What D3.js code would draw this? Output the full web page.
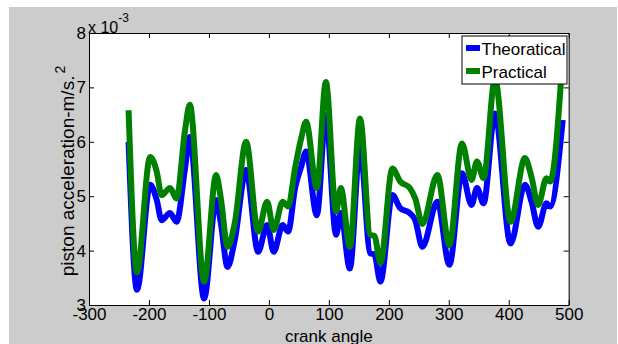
<!DOCTYPE html>
<html>
<head>
<meta charset="utf-8">
<script src="https://cdn.jsdelivr.net/npm/d3@7"></script>
<style>
    body { margin: 0; background: #fff; }
    svg { display: block; font-family: "Liberation Sans", Arial, sans-serif; }
</style>
</head>
<body>
<div id="chart"></div>
<script>
// crank angle (deg) and acceleration values, in units of 1e-3 m/s^2
const crankAngle = [-234, -220, -198, -187, -179, -165, -154, -140, -132, -108, -88, -80, -69, -57, -38,
    -18, -3, 8, 23, 32, 44, 54, 62, 80, 95, 112, 120, 135, 152, 169, 176, 186, 206, 219, 235, 244,
    256, 281, 301, 322, 338, 347, 358, 377, 403, 427, 438, 449, 463, 469, 490];
const theoretical = [6.0, 3.28, 5.21, 4.93, 4.56, 4.69, 4.53, 5.5, 6.09, 3.12, 4.93, 4.5, 3.70, 4.19, 5.48,
    3.98, 4.47, 3.98, 4.47, 4.35, 5.17, 5.55, 5.82, 4.65, 6.49, 4.29, 4.69, 3.67, 5.91, 3.95, 3.93, 3.43,
    5.02, 4.78, 4.69, 4.56, 4.07, 4.90, 3.74, 5.42, 4.84, 5.15, 4.87, 6.52, 4.13, 5.21, 4.9, 4.44, 4.87,
    4.81, 6.4];
const practical = [6.58, 3.60, 5.72, 5.45, 5.02, 5.15, 4.96, 6.2, 6.68, 3.43, 5.39, 4.95, 4.07, 4.5, 6.0,
    4.35, 4.9, 4.38, 4.9, 4.81, 5.54, 6.07, 6.37, 5.15, 7.1, 4.72, 5.15, 4.07, 6.43, 4.29, 4.27, 3.77,
    5.51, 5.27, 5.15, 4.96, 4.49, 5.39, 4.10, 5.97, 5.30, 5.64, 5.33, 7.15, 4.53, 5.70, 5.35, 4.84, 5.33,
    5.27, 7.6];
const seriesNames = ["Theoratical", "Practical"];
const seriesColors = ["#0000ff", "#008000"];
const xTicks = [-300, -200, -100, 0, 100, 200, 300, 400, 500];
const yTicks = [3, 4, 5, 6, 7, 8];

const W = 618, H = 344;
const plot = { left: 89, top: 33, right: 568.7, bottom: 305 };

const svg = d3.select("#chart").append("svg")
    .attr("width", W)
    .attr("height", H);

// figure background
svg.append("rect")
    .attr("x", 9).attr("y", 7)
    .attr("width", 608).attr("height", H - 7)
    .attr("fill", "#cccccc");

svg.append("rect")
    .attr("x", plot.left).attr("y", plot.top)
    .attr("width", plot.right - plot.left).attr("height", plot.bottom - plot.top)
    .attr("fill", "#fff");

const x = d3.scaleLinear().domain([-300, 500]).range([plot.left, plot.right]);
const y = d3.scaleLinear().domain([3, 8]).range([plot.bottom, plot.top]);
const fmt = (d) => String(d); // plain hyphen minus, no decimals

const rows = crankAngle.map((a, i) => ({ a: a, v: [theoretical[i], practical[i]] }));

const line = (k) => d3.line()
    .x((d) => x(d.a))
    .y((d) => y(d.v[k]))
    .curve(d3.curveMonotoneX);

seriesNames.forEach((name, k) => {
    svg.append("path")
        .datum(rows)
        .attr("fill", "none")
        .attr("stroke", seriesColors[k])
        .attr("stroke-width", 6)
        .attr("stroke-linejoin", "round")
        .attr("d", line(k));
});

// axes (ticks point inward, box on)
function styleAxis(g, fs) {
    g.attr("font-family", null).attr("font-size", null);
    g.selectAll("path.domain").attr("stroke", "#000").attr("stroke-width", 1);
    g.selectAll(".tick line").attr("stroke", "#000");
    g.selectAll("text").attr("fill", "#000").attr("font-size", fs);
}

svg.append("g")
    .attr("transform", `translate(0,${plot.bottom})`)
    .call(d3.axisBottom(x).tickValues(xTicks).tickFormat(fmt).tickSizeInner(-5).tickSizeOuter(0).tickPadding(3))
    .call((g) => styleAxis(g, 17));

svg.append("g")
    .attr("transform", `translate(0,${plot.top})`)
    .call(d3.axisTop(x).tickValues(xTicks).tickSizeInner(-5).tickSizeOuter(0).tickFormat(""))
    .call((g) => styleAxis(g, 17));

svg.append("g")
    .attr("transform", `translate(${plot.left},0)`)
    .call(d3.axisLeft(y).tickValues(yTicks).tickFormat(fmt).tickSizeInner(-5).tickSizeOuter(0).tickPadding(3))
    .call((g) => styleAxis(g, 17));

svg.append("g")
    .attr("transform", `translate(${plot.right},0)`)
    .call(d3.axisRight(y).tickValues(yTicks).tickSizeInner(-5).tickSizeOuter(0).tickFormat(""))
    .call((g) => styleAxis(g, 17));

// exponent label
const expo = svg.append("text")
    .attr("x", 88).attr("y", 32.5)
    .attr("font-size", 16)
    .attr("fill", "#000");
expo.append("tspan").text("x 10");
expo.append("tspan").attr("dy", -11).attr("font-size", 12).text("-3");

// axis labels
svg.append("text")
    .attr("x", (plot.left + plot.right) / 2)
    .attr("y", 341.5)
    .attr("text-anchor", "middle")
    .attr("font-size", 17)
    .attr("fill", "#000")
    .text("crank angle");

const ylab = svg.append("text")
    .attr("transform", `translate(74,${(plot.top + plot.bottom) / 2 + 2}) rotate(-90)`)
    .attr("text-anchor", "middle")
    .attr("font-size", 19)
    .attr("fill", "#000");
ylab.append("tspan").text("piston acceleration-m/s.");
ylab.append("tspan").attr("dy", -9).attr("dx", 2).attr("font-size", 14).text("2");

// legend
const legend = svg.append("g").attr("transform", "translate(462,36)");
legend.append("rect")
    .attr("width", 105).attr("height", 48)
    .attr("fill", "#fff")
    .attr("stroke", "#000");

seriesNames.forEach((name, k) => {
    const row = legend.append("g").attr("transform", `translate(0,${12 + k * 23})`);
    row.append("line")
        .attr("x1", 4).attr("x2", 18)
        .attr("stroke", seriesColors[k])
        .attr("stroke-width", 6);
    row.append("text")
        .attr("x", 19.5).attr("y", 6.5)
        .attr("font-size", 17)
        .attr("fill", "#000")
        .text(name);
});
</script>
</body>
</html>
